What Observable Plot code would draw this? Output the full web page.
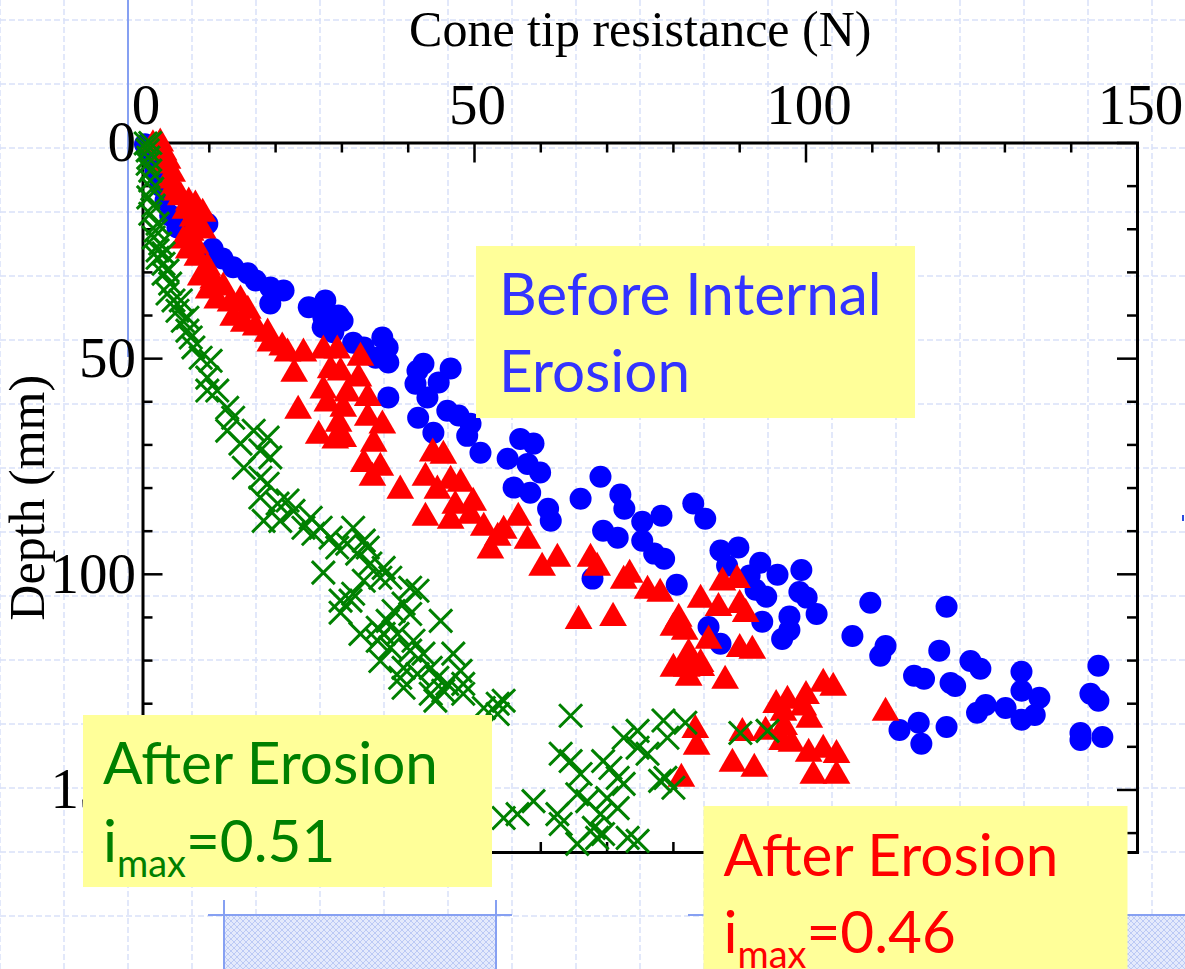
<!DOCTYPE html>
<html>
<head>
<meta charset="utf-8">
<script src="https://cdn.jsdelivr.net/npm/d3@7"></script>
<script src="https://cdn.jsdelivr.net/npm/@observablehq/plot@0.6"></script>
<style>
html, body { margin: 0; padding: 0; background: #ffffff; overflow: hidden; }
#wrap { position: relative; width: 1185px; height: 969px; }
#wrap > svg { position: absolute; left: 0; top: 0; }
</style>
</head>
<body>
<div id="wrap"></div>
<script>
// ---------------- data (cone tip resistance N, depth mm) ----------------
const beforeErosion = [
[0.3,0.3],[1.1,2.9],[1.9,6.4],[2.6,9.9],[3.4,13.3],[4.1,16.8],[5.2,19.6],[9.7,18.7],[10.5,24.5],[12.0,26.8],
[13.6,28.8],[15.8,30.2],[17.0,31.9],[19.2,33.5],[21.2,34.2],[19.2,37.2],[25.0,38.1],[27.5,36.5],[27.2,40.4],[29.5,40.0],
[30.1,41.2],[27.1,42.7],[28.7,43.9],[31.7,46.3],[33.3,47.4],[36.1,45.1],[36.9,47.4],[37.0,50.9],[35.1,49.8],[42.3,51.2],
[41.4,52.8],[41.1,55.8],[46.4,52.3],[44.6,55.5],[42.9,59.0],[37.0,59.0],[41.5,63.7],[43.8,67.2],[45.9,62.1],[47.6,63.2],
[49.4,65.1],[48.9,67.9],[50.9,71.8],[56.9,68.6],[58.9,69.7],[55.0,73.2],[58.0,74.4],[59.9,76.4],[55.9,79.9],[58.4,81.1],
[61.1,84.8],[61.5,87.6],[66.0,82.5],[69.0,77.4],[72.0,81.5],[72.6,84.8],[75.3,87.8],[78.2,86.4],[69.4,89.9],[71.6,91.5],
[75.3,92.2],[77.1,95.2],[78.6,96.4],[83.0,83.6],[84.8,87.1],[80.5,102.4],[67.8,101.0],[87.1,94.5],[89.8,93.8],[88.1,98.0],
[91.5,100.3],[93.1,97.3],[95.7,100.1],[92.4,103.6],[94.0,105.2],[99.3,99.0],[99.0,104.1],[100.1,105.4],[101.6,109.2],[97.5,109.8],
[93.4,111.0],[97.5,112.9],[96.4,115.0],[85.3,112.2],[87.1,116.1],[109.7,106.6],[121.2,107.5],[107.0,114.3],[112.0,116.6],[111.2,118.9],
[120.1,117.7],[116.3,123.5],[117.8,124.2],[121.8,125.2],[122.5,125.9],[124.8,120.1],[126.3,121.9],[132.5,122.6],[132.5,127.0],[135.2,128.6],
[144.1,121.2],[142.9,127.7],[144.1,129.3],[127.1,130.3],[125.8,132.1],[130.1,131.0],[132.5,133.7],[134.5,132.6],[114.1,136.1],[117.0,134.4],
[117.4,139.3],[121.2,135.4],[141.4,136.8],[141.4,138.4],[144.7,137.7]
];
const afterErosion046 = [
[1.5,0.5],[2.6,0.1],[3.1,2.2],[3.7,4.1],[3.4,5.2],[4.4,7.1],[4.1,8.7],[4.6,10.3],[5.1,11.5],[5.7,12.6],
[6.9,13.8],[7.9,14.5],[6.4,15.7],[9.0,16.4],[7.5,17.5],[8.2,18.7],[9.0,20.3],[7.2,20.8],[6.1,22.6],[7.9,23.8],
[6.9,24.9],[8.2,26.6],[9.7,28.9],[8.7,31.2],[10.6,31.9],[9.9,34.2],[12.1,33.5],[11.2,36.5],[13.2,37.2],[14.7,36.5],
[13.6,40.5],[15.8,38.9],[15.2,41.9],[17.0,42.8],[18.8,44.2],[19.2,46.5],[21.0,47.4],[21.8,48.8],[24.2,48.8],[27.2,48.1],
[29.3,48.1],[32.8,49.8],[22.8,53.5],[23.4,62.1],[28.3,52.7],[27.2,57.4],[29.8,53.2],[32.5,54.6],[33.9,59.1],[30.8,58.1],
[27.8,60.4],[30.2,61.6],[29.5,65.1],[33.9,63.7],[36.1,65.5],[26.5,67.9],[30.2,68.6],[29.0,69.0],[34.8,69.7],[33.3,74.4],
[35.8,75.3],[34.6,77.6],[38.8,80.6],[43.7,72.0],[45.3,72.5],[42.6,77.6],[46.4,78.3],[44.4,80.6],[47.9,79.0],[49.8,83.4],
[47.1,84.1],[42.6,86.9],[46.4,87.6],[49.4,86.4],[51.4,89.2],[56.6,86.9],[54.4,89.9],[53.5,91.5],[52.4,94.5],[58.0,92.2],
[62.5,96.4],[67.5,96.4],[60.2,98.5],[68.5,98.5],[72.5,101.5],[76.1,103.8],[78.0,104.5],[65.7,110.8],[70.9,110.1],[73.4,100.1],
[87.4,101.9],[89.6,101.3],[84.1,105.9],[86.8,107.8],[90.0,107.1],[90.9,109.2],[80.8,110.3],[80.0,112.4],[81.7,113.3],[85.3,115.4],
[90.0,117.3],[91.9,117.7],[82.3,118.4],[82.3,119.4],[84.1,120.8],[80.0,121.9],[82.0,121.9],[84.2,121.7],[82.3,124.0],[87.8,124.7],
[95.5,130.3],[97.2,129.3],[100.0,128.2],[99.6,130.9],[102.6,125.4],[104.1,126.3],[96.6,132.1],[83.3,136.1],[83.5,140.0],[90.4,136.8],
[93.9,136.5],[96.7,135.4],[96.4,138.9],[97.8,139.3],[100.5,133.7],[100.4,141.6],[102.6,140.7],[104.6,141.9],[88.9,143.9],[92.2,145.1],
[81.2,147.4],[101.1,146.7],[104.6,146.7],[112.0,132.1]
];
const afterErosion051 = [
[0.4,0.1],[1.1,0.0],[0.7,1.7],[0.8,3.4],[0.7,4.8],[1.1,6.4],[1.1,8.7],[1.4,10.6],[0.8,12.6],[1.6,14.5],
[1.1,16.4],[2.2,18.7],[1.9,20.3],[1.6,21.9],[2.6,23.3],[2.2,24.9],[3.1,25.6],[2.2,26.6],[3.1,28.0],[3.7,29.6],
[3.1,30.3],[4.1,32.6],[3.7,34.9],[4.6,36.5],[5.7,36.5],[5.2,38.9],[6.0,41.2],[6.7,40.5],[6.7,43.5],[7.2,45.1],
[7.6,47.4],[8.7,49.8],[10.2,50.5],[9.7,54.4],[9.7,57.4],[11.2,57.4],[12.7,61.4],[13.6,63.7],[12.7,66.7],[16.7,66.7],
[18.8,68.3],[14.7,69.7],[17.7,71.3],[19.2,72.9],[15.2,75.3],[17.7,77.6],[18.8,79.0],[17.7,82.2],[20.3,83.6],[21.8,82.9],
[22.7,85.3],[25.3,86.9],[18.2,87.6],[20.7,87.6],[24.2,89.2],[25.7,90.6],[26.8,89.2],[28.3,91.5],[31.7,89.2],[30.8,92.9],
[33.3,92.2],[29.3,93.8],[32.3,95.2],[33.9,93.8],[34.3,97.5],[36.3,98.5],[27.2,99.6],[33.3,101.5],[35.8,100.8],[37.3,100.8],
[40.3,103.1],[41.4,103.8],[31.7,104.5],[39.3,106.8],[29.8,106.1],[31.3,106.1],[29.8,108.9],[37.8,108.5],[40.3,109.2],[44.9,110.8],
[36.9,110.8],[35.4,112.4],[32.8,113.8],[36.3,113.8],[38.4,113.8],[35.4,115.4],[40.8,115.4],[37.3,117.0],[40.3,117.7],[42.3,118.4],
[46.8,118.4],[35.8,120.1],[39.3,121.7],[43.4,121.7],[47.9,122.4],[38.8,124.0],[41.4,123.1],[44.4,124.0],[45.9,125.4],[48.3,125.4],
[39.3,126.3],[43.4,127.7],[45.3,127.0],[48.3,127.7],[44.1,129.3],[51.4,131.0],[53.5,130.0],[54.4,129.3],[53.5,132.4],[64.5,132.8],
[63.0,141.6],[64.5,143.3],[66.0,146.3],[69.4,143.3],[70.5,144.9],[72.5,137.9],[74.6,136.3],[74.6,140.2],[76.1,141.6],[78.5,133.9],
[79.1,137.9],[81.8,134.4],[78.0,147.9],[71.6,147.2],[72.5,148.6],[65.5,151.0],[67.0,152.6],[70.0,151.9],[71.6,154.2],[69.0,155.6],
[54.4,156.5],[56.5,155.6],[58.9,152.6],[62.5,155.6],[63.0,157.9],[68.0,158.8],[68.5,161.1],[69.4,160.2],[73.1,161.1],[74.6,161.8],
[65.5,162.5],[90.1,136.8],[94.2,136.3],[80.0,149.5],[78.8,147.2]
];
const xMajorTicks = [0, 50, 100, 150];
const yMajorTicks = [0, 50, 100, 150];
const xMinorTicks = [10, 20, 30, 40, 60, 70, 80, 90, 110, 120, 130, 140];
const yMinorTicks = [10, 20, 30, 40, 60, 70, 80, 90, 110, 120, 130, 140, 160];
const xTitle = "Cone tip resistance (N)";
const yTitle = "Depth (mm)";
const labelBefore = ["Before Internal", "Erosion"];
const labelAfter = "After Erosion";
const labelSub = "max";
const label051 = "=0.51";
const label046 = "=0.46";

// ---------------- layout ----------------
const W = 1185, H = 969;
const mL = 142.5, mR = 48, mT = 142.5, mB = 117;
const pw = W - mL - mR, ph = H - mT - mB;
const serif = "Liberation Serif, 'Times New Roman', serif";
const sans = "Lato, Carlito, 'Open Sans', sans-serif";
const wrap = d3.select("#wrap");

// background slide grid
const bg = wrap.append("svg").attr("width", W).attr("height", H);
for (let x = 0; x <= W; x += 64) bg.append("line").attr("x1", x).attr("x2", x).attr("y1", 0).attr("y2", H)
  .attr("stroke", "#d9e1f9").attr("stroke-width", 1.5).attr("stroke-dasharray", "6 3");
for (let y = 20; y <= H; y += 64) bg.append("line").attr("y1", y).attr("y2", y).attr("x1", 0).attr("x2", W)
  .attr("stroke", "#d9e1f9").attr("stroke-width", 1.5).attr("stroke-dasharray", "6 3");
bg.append("line").attr("x1", 128).attr("x2", 128).attr("y1", 0).attr("y2", 357).attr("stroke", "#86a0f2").attr("stroke-width", 2);

// ---------------- chart ----------------
const tickStyle = {stroke: "black", strokeWidth: 2.5};
const chart = Plot.plot({
  width: W, height: H,
  marginLeft: mL, marginRight: mR, marginTop: mT, marginBottom: mB,
  x: {domain: [0, 150], axis: null},
  y: {domain: [0, 164.5], reverse: true, axis: null},
  style: {background: "transparent", overflow: "visible"},
  marks: [
    Plot.frame({stroke: "black", strokeWidth: 3}),
    Plot.ruleX(xMinorTicks, {x: d => d, insetBottom: ph - 10, ...tickStyle}),
    Plot.ruleX(xMajorTicks, {x: d => d, insetBottom: ph - 20, ...tickStyle}),
    Plot.ruleX(xMinorTicks, {x: d => d, insetTop: ph - 10, ...tickStyle}),
    Plot.ruleX(xMajorTicks, {x: d => d, insetTop: ph - 20, ...tickStyle}),
    Plot.ruleY(yMinorTicks, {y: d => d, insetRight: pw - 10, ...tickStyle}),
    Plot.ruleY(yMajorTicks, {y: d => d, insetRight: pw - 20, ...tickStyle}),
    Plot.ruleY(yMinorTicks, {y: d => d, insetLeft: pw - 10, ...tickStyle}),
    Plot.ruleY(yMajorTicks, {y: d => d, insetLeft: pw - 20, ...tickStyle}),
    Plot.text(xMajorTicks, {x: d => d, text: d => String(d), frameAnchor: "top", dx: 3, dy: -19,
      lineAnchor: "bottom", textAnchor: "middle", fontSize: 57, fontFamily: serif, fill: "black"}),
    Plot.text(yMajorTicks, {y: d => d, text: d => String(d), frameAnchor: "left", dx: -7,
      lineAnchor: "middle", textAnchor: "end", fontSize: 57, fontFamily: serif, fill: "black"}),
    Plot.text([xTitle], {text: d => d, frameAnchor: "top", dy: -(mT - 45), lineAnchor: "bottom",
      textAnchor: "middle", fontSize: 50, fontFamily: serif, fill: "black"}),
    Plot.text([yTitle], {text: d => d, frameAnchor: "left", dx: 43 - mL, rotate: -90, lineAnchor: "bottom",
      textAnchor: "middle", fontSize: 50, fontFamily: serif, fill: "black"}),
    Plot.dot(beforeErosion, {x: d => d[0], y: d => d[1], r: 11, fill: "#0000ff"}),
    Plot.dot(afterErosion046, {x: d => d[0], y: d => d[1], symbol: "triangle", r: 10.3, fill: "#ff0000"}),
    Plot.dot(afterErosion051, {x: d => d[0], y: d => d[1], symbol: "times", r: 10.5, stroke: "#008000", strokeWidth: 3, fill: "none"})
  ]
});
wrap.node().appendChild(chart);

// ---------------- overlay: slide boxes ----------------
const ov = wrap.append("svg").attr("width", W).attr("height", H);
const defs = ov.append("defs");
const pat = defs.append("pattern").attr("id", "hatch").attr("width", 6).attr("height", 6).attr("patternUnits", "userSpaceOnUse");
pat.append("rect").attr("width", 6).attr("height", 6).attr("fill", "#e4eafc");
pat.append("path").attr("d", "M0,0L6,6M6,0L0,6").attr("stroke", "#bccaf5").attr("stroke-width", 1);

// decorations at the bottom
ov.append("rect").attr("x", 224).attr("y", 916).attr("width", 272).attr("height", 60).attr("fill", "url(#hatch)");
ov.append("line").attr("x1", 208).attr("x2", 512).attr("y1", 915).attr("y2", 915).attr("stroke", "#86a0f2").attr("stroke-width", 2);
ov.append("line").attr("x1", 224).attr("x2", 224).attr("y1", 900).attr("y2", H).attr("stroke", "#86a0f2").attr("stroke-width", 2);
ov.append("line").attr("x1", 496).attr("x2", 496).attr("y1", 900).attr("y2", H).attr("stroke", "#86a0f2").attr("stroke-width", 2);
ov.append("rect").attr("x", 1110).attr("y", 916).attr("width", 80).attr("height", 60).attr("fill", "url(#hatch)");
ov.append("line").attr("x1", 688).attr("x2", W).attr("y1", 915).attr("y2", 915).attr("stroke", "#86a0f2").attr("stroke-width", 2);
ov.append("line").attr("x1", 1183).attr("x2", 1183).attr("y1", 515).attr("y2", 521).attr("stroke", "#2a4be0").attr("stroke-width", 2);

function measure(str, size) {
  const t = ov.append("text").attr("font-family", sans).attr("font-size", size).text(str);
  const w = t.node().getComputedTextLength();
  t.remove();
  return w;
}
const fs = Math.min(64, 100 * 335 / measure(labelAfter, 100));
const subFs = fs * 0.65;

function box(x, y, w, h) {
  ov.append("rect").attr("x", x).attr("y", y).attr("width", w).attr("height", h).attr("fill", "#ffff99");
}
function line(x, y, str, color) {
  ov.append("text").attr("x", x).attr("y", y).attr("font-family", sans).attr("font-size", fs)
    .attr("fill", color).text(str);
}
function imaxLine(x, y, value, color) {
  const t = ov.append("text").attr("x", x).attr("y", y).attr("font-family", sans).attr("font-size", fs).attr("fill", color);
  t.append("tspan").text("i");
  t.append("tspan").attr("dy", 15).attr("font-size", subFs).text(labelSub);
  t.append("tspan").attr("dy", -15).text(value);
}

box(476, 246, 439, 172);
line(499, 315, labelBefore[0], "#3333ff");
line(499, 392, labelBefore[1], "#3333ff");

box(83, 715, 409, 172);
line(103, 784, labelAfter, "#008000");
imaxLine(103, 862, label051, "#008000");

box(703.5, 806, 424, 180);
line(723.5, 876, labelAfter, "#ff0000");
imaxLine(723.5, 953, label046, "#ff0000");
</script>
</body>
</html>
